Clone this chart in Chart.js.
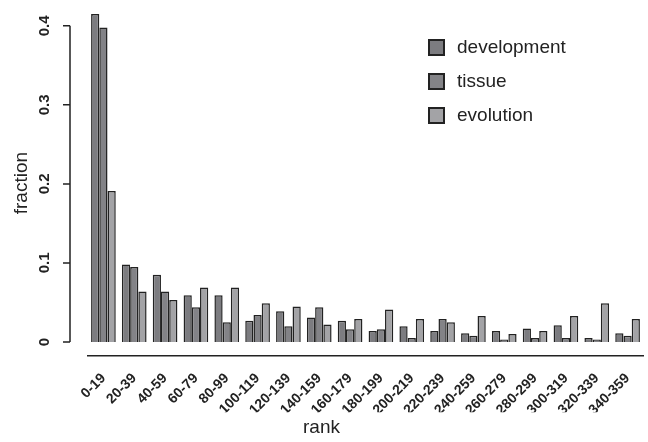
<!DOCTYPE html>
<html>
<head>
<meta charset="utf-8">
<script src="https://cdn.jsdelivr.net/npm/chart.js@4/dist/chart.umd.min.js"></script>
<style>
  body { margin: 0; background: #fff; }
  #wrap { position: relative; width: 648px; height: 442px; }
  #legend { position: absolute; left: 428px; top: 36px; font-family: 'Liberation Sans', Arial, sans-serif; font-size: 19px; color: #222; }
  .row { height: 34px; display: flex; align-items: flex-start; }
  .box { width: 13px; height: 13px; border: 2px solid #222; margin-right: 12px; margin-top: 3px; }
</style>
</head>
<body>
<div id="wrap">
  <canvas id="chart" width="648" height="442"></canvas>
  <div id="legend"></div>
</div>
<script>
const ranks = ['0-19', '20-39', '40-59', '60-79', '80-99', '100-119', '120-139', '140-159', '160-179',
  '180-199', '200-219', '220-239', '240-259', '260-279', '280-299', '300-319', '320-339', '340-359'];

const development = [0.415, 0.098, 0.085, 0.059, 0.059, 0.027, 0.039, 0.031, 0.027,
  0.014, 0.020, 0.014, 0.011, 0.014, 0.017, 0.021, 0.005, 0.011];
const tissue = [0.398, 0.095, 0.064, 0.044, 0.025, 0.034, 0.020, 0.044, 0.016,
  0.016, 0.005, 0.029, 0.008, 0.003, 0.005, 0.005, 0.003, 0.008];
const evolution = [0.191, 0.064, 0.053, 0.069, 0.069, 0.049, 0.045, 0.022, 0.029,
  0.041, 0.029, 0.025, 0.033, 0.010, 0.014, 0.033, 0.049, 0.029];

const yTicks = [0, 0.1, 0.2, 0.3, 0.4];

const FONT = "'Liberation Sans', Arial, sans-serif";

// R-style y axis: line only spans the tick range, detached from the bars
const rAxis = {
  id: 'rAxis',
  afterDraw(chart) {
    const ctx = chart.ctx;
    const s = chart.scales.y;
    const x0 = chart.chartArea.left - 18;
    const top = s.getPixelForValue(yTicks[yTicks.length - 1]);
    const bot = s.getPixelForValue(yTicks[0]);
    ctx.save();
    ctx.strokeStyle = '#222';
    ctx.lineWidth = 1.5;
    ctx.beginPath();
    ctx.moveTo(x0, top);
    ctx.lineTo(x0, bot);
    yTicks.forEach(t => {
      const py = s.getPixelForValue(t);
      ctx.moveTo(x0 - 7, py);
      ctx.lineTo(x0, py);
    });
    ctx.stroke();
    ctx.fillStyle = '#222';
    ctx.font = 'bold 15px ' + FONT;
    ctx.textAlign = 'center';
    ctx.textBaseline = 'middle';
    yTicks.forEach(t => {
      ctx.save();
      ctx.translate(x0 - 25, s.getPixelForValue(t));
      ctx.rotate(-Math.PI / 2);
      ctx.fillText(String(t), 0, 0);
      ctx.restore();
    });
    ctx.restore();
  }
};

const chart = new Chart(document.getElementById('chart'), {
  type: 'bar',
  data: {
    labels: ranks,
    datasets: [
      { label: 'development', data: development, backgroundColor: '#7c7c80' },
      { label: 'tissue', data: tissue, backgroundColor: '#838387' },
      { label: 'evolution', data: evolution, backgroundColor: '#a3a3a6' }
    ]
  },
  options: {
    responsive: false,
    animation: false,
    layout: { padding: { top: 10, right: 5 } },
    datasets: {
      bar: { borderColor: '#222', borderWidth: 1.5, categoryPercentage: 0.8, barPercentage: 1.0 }
    },
    plugins: {
      legend: { display: false },
      tooltip: { enabled: false },
      title: {
        display: true, position: 'bottom', text: 'rank', color: '#222',
        font: { family: FONT, size: 19, weight: 'normal' },
        padding: { top: 4, bottom: 3 }
      }
    },
    scales: {
      x: {
        grid: { display: false },
        border: { display: true, color: '#222', width: 1.5 },
        ticks: {
          color: '#222', font: { family: FONT, size: 14, weight: 'bold' },
          minRotation: 45, maxRotation: 45, autoSkip: false, padding: 6
        },
        afterFit: s => { s.height = 56; }
      },
      y: {
        min: -0.018,
        max: 0.42,
        grid: { display: false },
        border: { display: false },
        ticks: { display: false },
        afterBuildTicks: s => { s.ticks = yTicks.map(v => ({ value: v })); },
        afterFit: s => { s.width = 88; },
        title: {
          display: true, text: 'fraction', color: '#222',
          font: { family: FONT, size: 19, weight: 'normal' },
          padding: { top: 10, bottom: 0 }
        }
      }
    }
  },
  plugins: [rAxis]
});

// legend built from the datasets
const legend = document.getElementById('legend');
chart.data.datasets.forEach(ds => {
  const row = document.createElement('div');
  row.className = 'row';
  const box = document.createElement('span');
  box.className = 'box';
  box.style.background = ds.backgroundColor;
  const txt = document.createElement('span');
  txt.textContent = ds.label;
  row.appendChild(box);
  row.appendChild(txt);
  legend.appendChild(row);
});
</script>
</body>
</html>
